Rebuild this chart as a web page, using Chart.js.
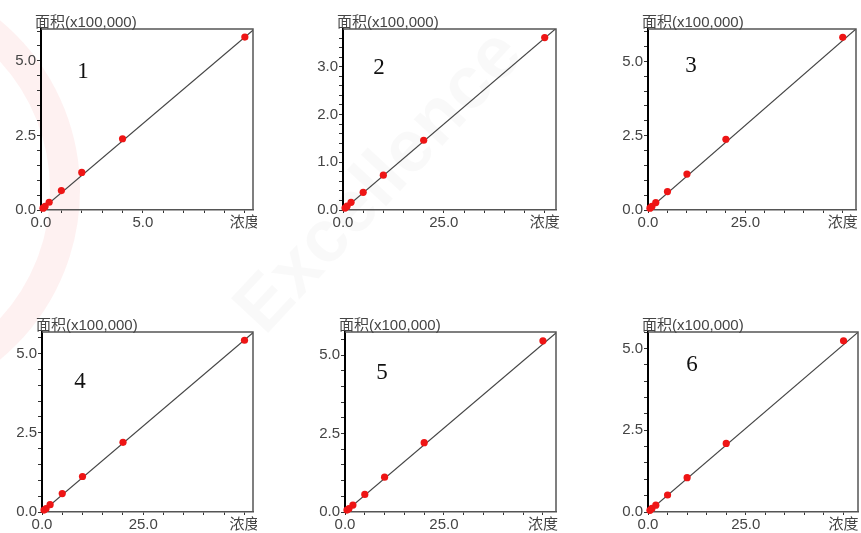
<!DOCTYPE html>
<html>
<head>
<meta charset="utf-8">
<script src="https://cdn.jsdelivr.net/npm/chart.js@4.4.1/dist/chart.umd.min.js"></script>
<style>
    html, body { margin: 0; padding: 0; background: #fff; overflow: hidden; }
    body { width: 861px; height: 533px; position: relative; }
    canvas { position: absolute; }
    .wm { position: absolute; pointer-events: none; }
    #arc { left: -360px; top: -30px; width: 380px; height: 380px; border-radius: 50%;
           border: 30px solid rgba(235, 60, 60, 0.07); }
    #txt { left: 215px; top: 290px; font: bold 74px "Liberation Sans", Arial, sans-serif;
           color: rgba(0, 0, 0, 0.022); transform: rotate(-47deg); transform-origin: 0 0; }
</style>
</head>
<body>
<div class="wm" id="arc"></div>
<div class="wm" id="txt">Excellence</div>
<canvas id="c1"></canvas>
<canvas id="c2"></canvas>
<canvas id="c3"></canvas>
<canvas id="c4"></canvas>
<canvas id="c5"></canvas>
<canvas id="c6"></canvas>
<script>
// concentration levels
const conc1 = [0.1, 0.2, 0.4, 1, 2, 4, 10];
const conc = [0.5, 1, 2, 5, 10, 20, 50];

// peak area (x100,000)
const area1 = [0.06, 0.12, 0.26, 0.65, 1.26, 2.39, 5.80];
const area2 = [0.04, 0.08, 0.16, 0.37, 0.73, 1.46, 3.61];
const area3 = [0.06, 0.12, 0.25, 0.62, 1.21, 2.38, 5.81];
const area4 = [0.06, 0.11, 0.23, 0.58, 1.12, 2.20, 5.42];
const area5 = [0.06, 0.11, 0.22, 0.56, 1.11, 2.21, 5.46];
const area6 = [0.05, 0.11, 0.21, 0.52, 1.05, 2.10, 5.24];

// axis ranges and calibration line end points
const xMaxes = [10.4, 52.8, 53.4, 52.1, 53.3, 53.7];
const yMaxes = [6.07, 3.79, 6.09, 5.68, 5.74, 5.51];
const fitEndY = [6.03, 3.80, 6.09, 5.66, 5.71, 5.50];

// tick steps: [minor, major, labelled last x]
const xSteps = [[1, 5, 10], [5, 25, 50], [5, 25, 50], [5, 25, 50], [5, 25, 50], [5, 25, 50]];
const ySteps = [[0.5, 2.5], [0.2, 1.0], [0.5, 2.5], [0.5, 2.5], [0.5, 2.5], [0.5, 2.5]];

const panelNames = ['1', '2', '3', '4', '5', '6'];

const panels = [
    { id: 'c1', x: conc1, y: area1, box: [41, 29, 255, 210], num: [42, 43] },
    { id: 'c2', x: conc, y: area2, box: [343, 29, 558, 210], num: [36, 39] },
    { id: 'c3', x: conc, y: area3, box: [648, 29, 858, 210], num: [43, 37] },
    { id: 'c4', x: conc, y: area4, box: [42, 332, 255, 512], num: [38, 50] },
    { id: 'c5', x: conc, y: area5, box: [345, 332, 558, 512], num: [37, 41] },
    { id: 'c6', x: conc, y: area6, box: [648, 332, 860, 512], num: [44, 33] }
];

const near = (a, b) => Math.abs(a - b) < 1e-6;

const decor = {
    id: 'decor',
    afterDraw(chart, args, opts) {
        const { ctx, chartArea: a } = chart;
        ctx.save();
        ctx.strokeStyle = '#555';
        ctx.lineWidth = 1.5;
        ctx.beginPath();
        ctx.moveTo(a.left, a.top);
        ctx.lineTo(a.right, a.top);
        ctx.lineTo(a.right, a.bottom);
        ctx.stroke();
        ctx.fillStyle = '#444';
        ctx.font = '15px "Liberation Sans", "Noto Sans CJK SC", sans-serif';
        ctx.textAlign = 'left';
        ctx.textBaseline = 'bottom';
        ctx.fillText('面积(x100,000)', a.left - 6, a.top + 1);
        ctx.fillStyle = '#111';
        ctx.font = '23px "Liberation Serif", serif';
        ctx.textAlign = 'center';
        ctx.textBaseline = 'middle';
        ctx.fillText(opts.name, a.left + opts.dx, a.top + opts.dy);
        ctx.restore();
    }
};

panels.forEach((p, i) => {
    const [l, t, r, b] = p.box;
    const cv = document.getElementById(p.id);
    const w = r - l + 40 + 2;
    const h = b - t + 29 + 22;
    cv.width = w;
    cv.height = h;
    cv.style.left = (l - 40) + 'px';
    cv.style.top = (t - 29) + 'px';

    const [xMinor, xMajor, xLast] = xSteps[i];
    const [yMinor, yMajor] = ySteps[i];

    new Chart(cv.getContext('2d'), {
        type: 'scatter',
        data: {
            datasets: [
                {
                    data: p.x.map((v, k) => ({ x: v, y: p.y[k] })),
                    backgroundColor: '#ee1515',
                    borderWidth: 0,
                    pointRadius: 3.6,
                    clip: false
                },
                {
                    type: 'line',
                    data: [{ x: 0, y: 0 }, { x: xMaxes[i], y: fitEndY[i] }],
                    borderColor: '#444',
                    borderWidth: 1.2,
                    pointRadius: 0
                }
            ]
        },
        options: {
            responsive: false,
            animation: false,
            devicePixelRatio: 1,
            layout: { padding: { top: 29, right: 2, left: 0, bottom: 0 } },
            plugins: {
                legend: { display: false },
                tooltip: { enabled: false },
                decor: { name: panelNames[i], dx: p.num[0], dy: p.num[1] }
            },
            scales: {
                x: {
                    type: 'linear',
                    min: 0,
                    max: xMaxes[i],
                    afterBuildTicks: s => {
                        const ticks = [];
                        for (let k = 0; k * xMinor <= xMaxes[i] + 1e-9; k++) ticks.push({ value: k * xMinor });
                        s.ticks = ticks;
                    },
                    afterFit: s => { s.height = 22; s.paddingLeft = 0; s.paddingRight = 0; },
                    border: { color: '#555', width: 1.5 },
                    grid: { drawOnChartArea: false, drawTicks: true, tickLength: 3, color: '#333' },
                    ticks: {
                        autoSkip: false,
                        maxRotation: 0,
                        padding: 1,
                        color: '#444',
                        font: { family: '"Liberation Sans", "Noto Sans CJK SC", sans-serif', size: 15 },
                        callback: v => {
                            if (near(v, xLast)) return '浓度';
                            return near(v % xMajor, 0) || near(v % xMajor, xMajor) ? v.toFixed(1) : '';
                        }
                    }
                },
                y: {
                    type: 'linear',
                    min: 0,
                    max: yMaxes[i],
                    afterBuildTicks: s => {
                        const ticks = [];
                        for (let k = 0; k * yMinor <= yMaxes[i] + 1e-9; k++) ticks.push({ value: k * yMinor });
                        s.ticks = ticks;
                    },
                    afterFit: s => { s.width = 40; s.paddingTop = 0; s.paddingBottom = 0; },
                    border: { color: '#000', width: 2 },
                    grid: { drawOnChartArea: false, drawTicks: true, tickLength: 4, color: '#333' },
                    ticks: {
                        autoSkip: false,
                        padding: 1,
                        color: '#444',
                        font: { family: '"Liberation Sans", sans-serif', size: 15 },
                        callback: v => {
                            const m = v / yMajor;
                            return near(m, Math.round(m)) ? v.toFixed(1) : '';
                        }
                    }
                }
            }
        },
        plugins: [decor]
    });
});
</script>
</body>
</html>
